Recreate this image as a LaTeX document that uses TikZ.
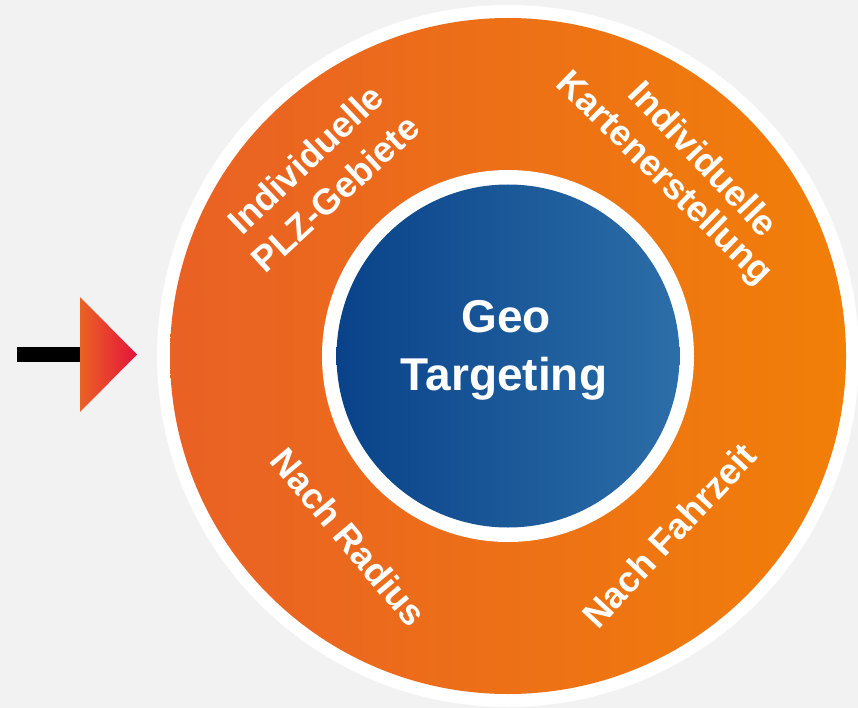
\documentclass[tikz,border=0pt]{standalone}
\usepackage{fontspec}
\setmainfont{Liberation Sans}
\definecolor{bg}{RGB}{242,242,242}
\definecolor{orL}{RGB}{233,97,37}
\definecolor{orR}{RGB}{241,127,8}
\definecolor{blL}{RGB}{9,66,137}
\definecolor{blR}{RGB}{44,110,168}
\definecolor{trL}{RGB}{234,98,36}
\definecolor{trR}{RGB}{228,20,60}
\begin{document}
\begin{tikzpicture}[x=1pt,y=-1pt,
  ringtext/.style={font=\bfseries\fontsize{36}{43}\selectfont, text=white, inner sep=0pt, text height=26pt, text depth=0pt},
  coretext/.style={font=\bfseries\fontsize{46}{55}\selectfont, text=white, inner sep=0pt, anchor=base}]
\useasboundingbox (0,0) rectangle (858,708);
\fill[bg] (0,0) rectangle (858,708);
\coordinate (C) at (508,356);
% outer ring
\fill[white] (C) circle[radius=351];
\shade[left color=orL, right color=orR] (C) circle[radius=338];
% inner disc
\fill[white] (C) circle[radius=186];
\shade[left color=blL, right color=blR] (C) circle[radius=171.5];
% arrow
\fill[black] (17,346.5) rectangle (81,361.5);
\shade[left color=trL, right color=trR] (80,297) -- (137,354.5) -- (80,412) -- cycle;
% ring labels
\node[ringtext, rotate=43.5] (tl1) at (305,159) {Individuelle};
\node[ringtext, rotate=42.5] (tl2) at (335,193.5) {PLZ-Gebiete};
\node[ringtext, rotate=-46.5] (tr1) at (704,158) {Individuelle};
\node[ringtext, rotate=-44.5] (tr2) at (666,176.5) {Kartenerstellung};
\node[ringtext, rotate=-50] (bl) at (349,537) {Nach Radius};
\node[ringtext, rotate=47] (br) at (669,535) {Nach Fahrzeit};
% core label
\node[coretext] (geo) at (506,332) {Geo};
\node[coretext] (tgt) at (504,390) {Targeting};
\end{tikzpicture}
\end{document}
